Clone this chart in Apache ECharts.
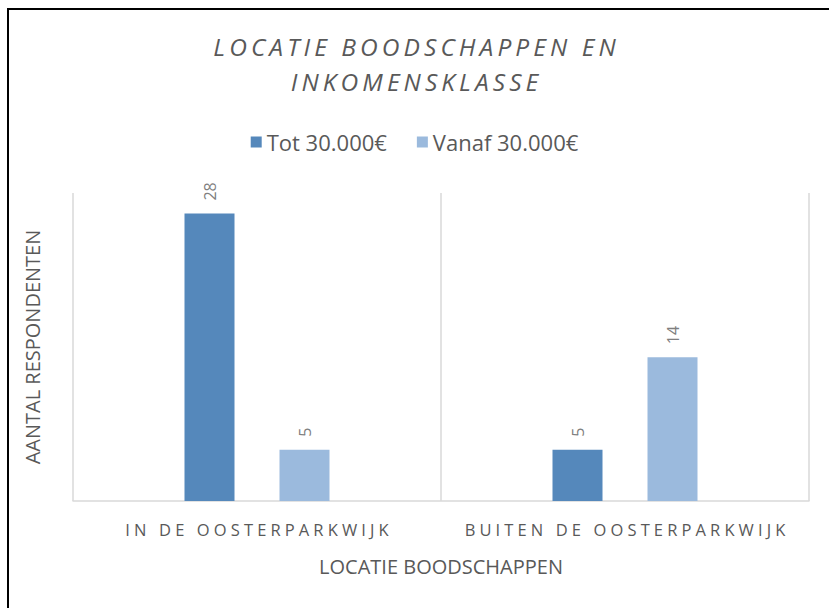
<!DOCTYPE html>
<html>
<head>
<meta charset="utf-8" />
<script src="https://cdn.jsdelivr.net/npm/echarts@6/dist/echarts.min.js"></script>
<style>
	html, body { margin: 0; padding: 0; background: #fff; }
	#chart { width: 829px; height: 608px; }
</style>
</head>
<body>
<div id="chart"></div>
<script>
	var categories = ["IN DE OOSTERPARKWIJK", "BUITEN DE OOSTERPARKWIJK"];
	var seriesNames = ["Tot 30.000€", "Vanaf 30.000€"];
	var totValues = [28, 5];
	var vanafValues = [5, 14];

	var textGray = "#595959";
	var fontName = "'Open Sans', 'Noto Sans', sans-serif";

	// zrender has no letter-spacing, so pad the letters with narrow spaces
	function spaced(s, gap) {
		return s.split("").join(gap);
	}

	var chart = echarts.init(document.getElementById("chart"), null, { renderer: "svg" });

	var barLabel = {
		show: true,
		position: "top",
		rotate: 90,
		align: "left",
		verticalAlign: "middle",
		distance: 13,
		color: "#7f7f7f",
		fontSize: 16,
		fontFamily: fontName
	};

	var option = {
		backgroundColor: "#fff",
		animation: false,
		title: {
			text: spaced("LOCATIE BOODSCHAPPEN EN", "\u2009") + "\n" + spaced("INKOMENSKLASSE", "\u2009"),
			left: "center",
			top: 24,
			textStyle: {
				color: textGray,
				fontSize: 24.5,
				fontStyle: "italic",
				fontWeight: "normal",
				fontFamily: fontName,
				lineHeight: 35
			}
		},
		legend: {
			top: 126,
			left: "center",
			itemWidth: 11,
			itemHeight: 11,
			itemGap: 30,
			icon: "rect",
			textStyle: { color: textGray, fontSize: 22, fontFamily: fontName }
		},
		grid: { left: 73, right: 20, top: 193, bottom: 107 },
		xAxis: {
			type: "category",
			data: categories,
			name: "LOCATIE BOODSCHAPPEN",
			nameLocation: "middle",
			nameGap: 55,
			nameTextStyle: { color: textGray, fontSize: 20, fontFamily: fontName },
			axisLine: { lineStyle: { color: "#d9d9d9", width: 1.5 } },
			axisTick: { show: false, interval: 0 },
			axisLabel: {
				interval: 0,
				color: textGray,
				fontSize: 16.5,
				margin: 20,
				fontFamily: fontName,
				formatter: function (v) { return spaced(v, "\u2005"); }
			},
			splitLine: { show: true, interval: 0, lineStyle: { color: "#d9d9d9", width: 1.5 } }
		},
		yAxis: {
			type: "value",
			min: 0,
			max: 30,
			name: "AANTAL RESPONDENTEN",
			nameLocation: "middle",
			nameGap: 31,
			nameTextStyle: { color: textGray, fontSize: 20, fontFamily: fontName },
			axisLine: { show: false },
			axisTick: { show: false },
			axisLabel: { show: false },
			splitLine: { show: false }
		},
		series: [
			{
				name: seriesNames[0],
				type: "bar",
				data: totValues,
				barWidth: 50,
				barGap: "90%",
				itemStyle: { color: "#5588bb" },
				label: barLabel
			},
			{
				name: seriesNames[1],
				type: "bar",
				data: vanafValues,
				barWidth: 50,
				itemStyle: { color: "#9bbadd" },
				label: barLabel
			}
		],
		graphic: [
			{
				type: "polyline",
				shape: { points: [[8, 608], [8, 9], [829, 9]] },
				style: { stroke: "#000", lineWidth: 2, fill: null }
			}
		]
	};

	chart.setOption(option);
</script>
</body>
</html>
